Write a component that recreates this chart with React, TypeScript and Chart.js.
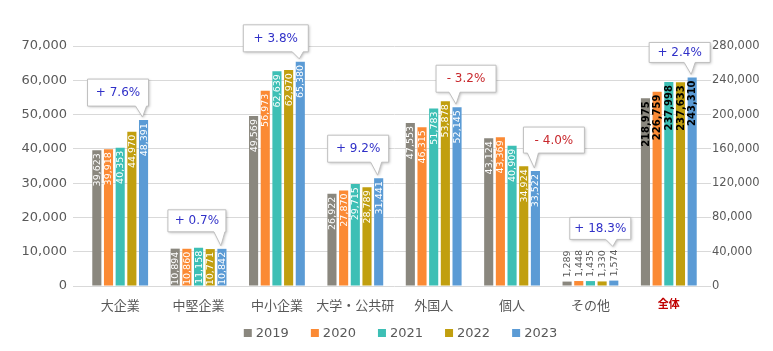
import React, { useEffect, useRef } from 'react';
import { Chart, registerables } from 'chart.js';

Chart.register(...registerables);

// ---------- data ----------
const categories = ['大企業', '中堅企業', '中小企業', '大学・公共研', '外国人', '個人', 'その他', '全体'];
const years = ['2019', '2020', '2021', '2022', '2023'];
const v2019 = [39623, 10894, 49569, 26922, 47553, 43124, 1289, 218975];
const v2020 = [39918, 10860, 56973, 27870, 46315, 43369, 1448, 226759];
const v2021 = [40353, 11158, 62639, 29715, 51783, 40909, 1435, 237998];
const v2022 = [44970, 10771, 62970, 28789, 53878, 34924, 1330, 237633];
const v2023 = [48391, 10842, 65380, 31441, 52145, 33522, 1574, 243310];
const changeLabels = ['+ 7.6%', '+ 0.7%', '+ 3.8%', '+ 9.2%', '- 3.2%', '- 4.0%', '+ 18.3%', '+ 2.4%'];
const leftTickMax = 70000;
const leftTickStep = 10000;
const rightTickMax = 280000;
const rightTickStep = 40000;

// ---------- styles / layout ----------
const seriesValues = [v2019, v2020, v2021, v2022, v2023];
const seriesColors = ['#8a877e', '#fb8a34', '#3dbfb5', '#c19f0f', '#5b9bd5'];
const TOTAL_INDEX = 7;
const calloutLayout = [
  { dx: -56, w: 61, h: 27, gap: 14 },
  { dx: -54, w: 58, h: 22, gap: 17 },
  { dx: -57, w: 65, h: 27, gap: 10 },
  { dx: -51, w: 61, h: 27, gap: 16 },
  { dx: -21, w: 60, h: 27, gap: 15 },
  { dx: -12, w: 61, h: 26, gap: 18 },
  { dx: -44, w: 61, h: 22, gap: 10 },
  { dx: -43, w: 61, h: 20, gap: 15 },
];
const FONT = '"DejaVu Sans", Verdana, sans-serif';
const CJK = '"Noto Sans CJK JP", sans-serif';
const TEXT_GRAY = '#595959';

const fmt = (n: number) => n.toLocaleString('en-US');

function labelFont(isTotal: boolean) {
  return isTotal ? `bold 10px ${FONT}` : `9.5px ${FONT}`;
}

const valueLabelPlugin = {
  id: 'valueLabels',
  afterDatasetsDraw(chart: any) {
    const ctx = chart.ctx;
    chart.data.datasets.forEach((ds: any, di: number) => {
      const meta = chart.getDatasetMeta(di);
      meta.data.forEach((el: any, idx: number) => {
        const v = ds.data[idx];
        if (v == null) return;
        const isTotal = idx === TOTAL_INDEX;
        const { x, y, base } = el.getProps(['x', 'y', 'base'], true);
        const h = base - y;
        const text = fmt(v);
        ctx.save();
        ctx.font = labelFont(isTotal);
        ctx.textBaseline = 'middle';
        if (h < 20) {
          ctx.fillStyle = TEXT_GRAY;
          ctx.translate(x, y - 4);
          ctx.rotate(-Math.PI / 2);
          ctx.textAlign = 'left';
        } else {
          ctx.fillStyle = isTotal ? '#000000' : '#ffffff';
          ctx.translate(x, y + 3);
          ctx.rotate(-Math.PI / 2);
          ctx.textAlign = 'right';
        }
        ctx.fillText(text, 0, 0.5);
        ctx.restore();
      });
    });
  },
};

const calloutPlugin = {
  id: 'callouts',
  afterDraw(chart: any) {
    const ctx = chart.ctx;
    const lastYear = years.length - 1;
    categories.forEach((_, idx) => {
      const isTotal = idx === TOTAL_INDEX;
      const di = isTotal ? years.length + lastYear : lastYear;
      const el = chart.getDatasetMeta(di).data[idx];
      if (!el) return;
      const { x, y, base } = el.getProps(['x', 'y', 'base'], true);
      let targetTop = y;
      if (base - y < 20) {
        ctx.save();
        ctx.font = labelFont(isTotal);
        targetTop = y - 4 - ctx.measureText(fmt(seriesValues[lastYear][idx])).width;
        ctx.restore();
      }
      const L = calloutLayout[idx];
      const boxBottom = targetTop - L.gap;
      const top = boxBottom - L.h;
      const left = x + L.dx;
      const right = left + L.w;
      const tipX = x - 1;
      const tipY = targetTop - 3;
      ctx.save();
      ctx.beginPath();
      ctx.moveTo(left, top);
      ctx.lineTo(right, top);
      ctx.lineTo(right, boxBottom);
      ctx.lineTo(x + 3, boxBottom);
      ctx.lineTo(tipX, tipY);
      ctx.lineTo(x - 8, boxBottom);
      ctx.lineTo(left, boxBottom);
      ctx.closePath();
      ctx.shadowColor = 'rgba(0,0,0,0.28)';
      ctx.shadowBlur = 3;
      ctx.shadowOffsetX = 1;
      ctx.shadowOffsetY = 1;
      ctx.fillStyle = '#ffffff';
      ctx.fill();
      ctx.shadowColor = 'transparent';
      ctx.strokeStyle = '#bfbfbf';
      ctx.lineWidth = 1;
      ctx.stroke();
      const txt = changeLabels[idx];
      ctx.font = `12px ${FONT}`;
      ctx.textAlign = 'center';
      ctx.textBaseline = 'middle';
      ctx.fillStyle = txt.trim().startsWith('-') ? '#c8282d' : '#3030c8';
      ctx.fillText(txt, (left + right) / 2, (top + boxBottom) / 2 + 0.5);
      ctx.restore();
    });
  },
};

const legendPlugin = {
  id: 'customLegend',
  afterDraw(chart: any) {
    const ctx = chart.ctx;
    const { chartArea } = chart;
    ctx.save();
    ctx.font = `13px ${FONT}`;
    ctx.textBaseline = 'middle';
    ctx.textAlign = 'left';
    const box = 8;
    const gapBoxText = 4;
    const gapItems = 22;
    const widths = years.map((y) => box + gapBoxText + ctx.measureText(y).width);
    const total = widths.reduce((a, b) => a + b, 0) + gapItems * (years.length - 1);
    let xPos = (chartArea.left + chartArea.right) / 2 + 6 - total / 2;
    const yc = 333;
    years.forEach((y, i) => {
      ctx.fillStyle = seriesColors[i];
      ctx.fillRect(xPos, yc - box / 2, box, box);
      ctx.fillStyle = TEXT_GRAY;
      ctx.fillText(y, xPos + box + gapBoxText, yc + 0.5);
      xPos += widths[i] + gapItems;
    });
    ctx.restore();
  },
};

export default function App() {
  const canvasRef = useRef<HTMLCanvasElement | null>(null);

  useEffect(() => {
    if (!canvasRef.current) return;
    const datasets: any[] = [];
    years.forEach((yr, i) => {
      datasets.push({
        label: yr,
        data: seriesValues[i].map((v, j) => (j === TOTAL_INDEX ? null : v)),
        backgroundColor: seriesColors[i],
        yAxisID: 'y',
      });
    });
    years.forEach((yr, i) => {
      datasets.push({
        label: yr + ' 全体',
        data: seriesValues[i].map((v, j) => (j === TOTAL_INDEX ? v : null)),
        backgroundColor: seriesColors[i],
        yAxisID: 'y1',
      });
    });

    const chart = new Chart(canvasRef.current, {
      type: 'bar',
      data: { labels: categories, datasets },
      options: {
        animation: false,
        responsive: true,
        maintainAspectRatio: false,
        layout: { padding: { top: 46, bottom: 35, left: 0, right: 0 } },
        datasets: {
          bar: {
            skipNull: true,
            categoryPercentage: 0.745,
            barPercentage: 0.78,
            borderWidth: 0,
          },
        },
        plugins: {
          legend: { display: false },
          tooltip: { enabled: false },
        },
        scales: {
          x: {
            grid: { display: false, drawTicks: false },
            border: { display: false },
            afterFit: (s: any) => {
              s.height = 30;
            },
            ticks: {
              autoSkip: false,
              maxRotation: 0,
              padding: 11,
              color: (c: any) => (c.index === TOTAL_INDEX ? '#c00000' : TEXT_GRAY),
              font: (c: any) =>
                c.index === TOTAL_INDEX
                  ? { family: CJK, size: 11, weight: 'bold' }
                  : { family: CJK, size: 13 },
            },
          },
          y: {
            position: 'left',
            min: 0,
            max: leftTickMax,
            afterFit: (s: any) => {
              s.width = 81;
            },
            ticks: {
              stepSize: leftTickStep,
              color: TEXT_GRAY,
              padding: 6,
              font: { family: FONT, size: 13 },
              callback: (v: any) => fmt(Number(v)),
            },
            grid: { color: '#d9d9d9', tickLength: 8 },
            border: { display: false },
          },
          y1: {
            position: 'right',
            min: 0,
            max: rightTickMax,
            afterFit: (s: any) => {
              s.width = 65;
            },
            ticks: {
              stepSize: rightTickStep,
              color: TEXT_GRAY,
              padding: 1,
              font: { family: FONT, size: 11.5 },
              callback: (v: any) => fmt(Number(v)),
            },
            grid: { drawOnChartArea: false, color: '#d9d9d9', tickLength: 3 },
            border: { display: false },
          },
        },
      },
      plugins: [valueLabelPlugin, calloutPlugin, legendPlugin],
    });
    return () => chart.destroy();
  }, []);

  return (
    <div style={{ position: 'fixed', left: 0, top: 0, width: 773, height: 351, background: '#ffffff' }}>
      <canvas ref={canvasRef} />
    </div>
  );
}
